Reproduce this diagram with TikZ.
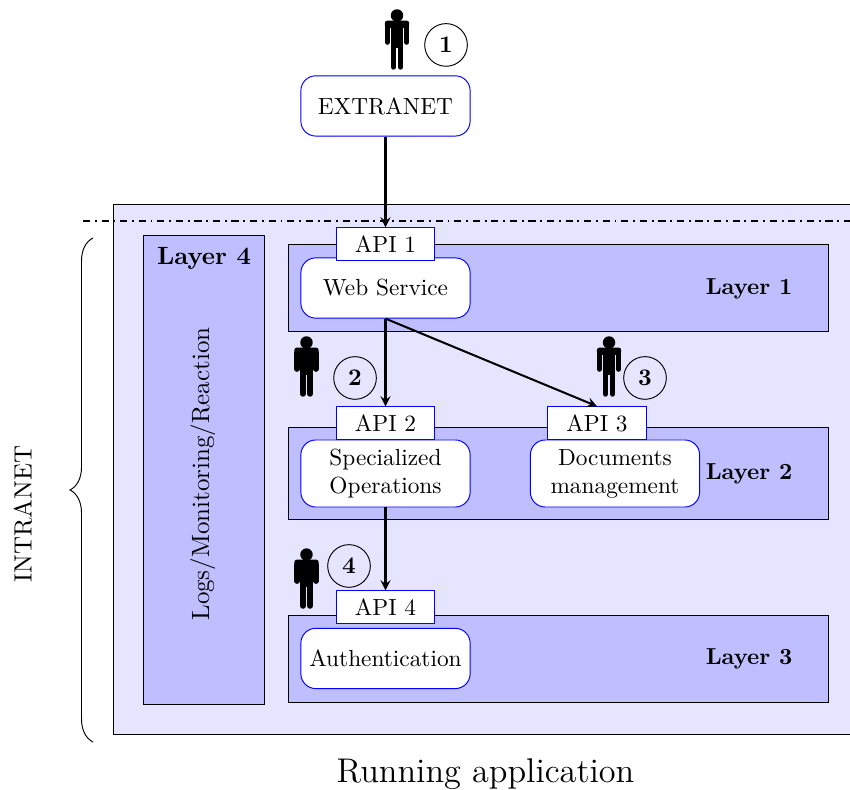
\documentclass[tikz,border=0pt]{standalone}
\usetikzlibrary{decorations.pathreplacing}

\tikzstyle{service} = [draw=blue, fill=white, rounded corners=.22cm, align=center, minimum width=2.5cm, inner sep=0pt, font=\fontsize{9.8}{11.8}\selectfont]
\tikzstyle{api} = [draw=blue, fill=white, minimum width=1.46cm, minimum height=.48cm, inner sep=0pt, font=\fontsize{9.8}{11.8}\selectfont]
\tikzstyle{user} = [draw, circle, minimum size=.63cm, inner sep=0pt, font=\bfseries]
\tikzstyle{layer} = [draw=black, fill=blue!25]
\tikzstyle{layername} = [font=\fontsize{9.7}{12}\selectfont\bfseries]
\tikzstyle{sidetext} = [rotate=90, font=\fontsize{10.5}{12}\selectfont]
\tikzstyle{link} = [line width=.85pt, -stealth]
\tikzset{person/.pic={
	\fill (0,-.096) circle [radius=.092];
	\fill [rounded corners=.04cm] (-.18,-.17) rectangle (.18,-.28);
	\fill (-.095,-.2) rectangle (.095,-.57);
	\draw [line width=.078cm, line cap=round] (-.141,-.25) -- (-.141,-.49);
	\draw [line width=.078cm, line cap=round] (.141,-.25) -- (.141,-.49);
	\draw [line width=.084cm, line cap=round] (-.052,-.5) -- (-.052,-.855);
	\draw [line width=.084cm, line cap=round] (.052,-.5) -- (.052,-.855);
}}

\begin{document}
\begin{tikzpicture}
	\useasboundingbox (0,0) rectangle (12.555,11.654);
	% backgrounds
	\draw [draw=black, fill=blue!10] (12.555,8.641) -- (1.669,8.641) -- (1.669,.812) -- (12.555,.812);
	\draw [layer] (2.112,1.255) rectangle (3.9,8.183);
	\draw [layer] (4.254,6.765) rectangle (12.24,8.050);
	\draw [layer] (4.254,3.988) rectangle (12.24,5.347);
	\draw [layer] (4.254,1.285) rectangle (12.24,2.570);

	\node [layername] (layerone) at (11.064,7.385) {Layer 1};
	\node [layername] (layertwo) at (11.064,4.652) {Layer 2};
	\node [layername] (layerthree) at (11.064,1.920) {Layer 3};
	\node [layername, font=\fontsize{10.5}{12}\selectfont\bfseries] (layerfour) at (3.013,7.841) {Layer 4};
	\node [sidetext] (logs) at (2.998,4.652) {Logs/Monitoring/Reaction};

	\draw [thick, dash dot] (1.226,8.390) -- (12.555,8.390);

	% services
	\node [service, minimum height=.89cm] (extranet) at (5.694,10.089) {EXTRANET};
	\node [service, minimum height=.89cm] (web) at (5.694,7.400) {Web Service};
	\node [service, minimum height=.99cm] (operations) at (5.694,4.660) {Specialized\\Operations};
	\node [service, minimum height=.99cm] (documents) at (9.084,4.660) {Documents\\management};
	\node [service, minimum height=.89cm] (authentication) at (5.694,1.928) {Authentication};

	\node [api] (apione) at (5.694,8.050) {API 1};
	\node [api] (apitwo) at (5.694,5.406) {API 2};
	\node [api] (apithree) at (8.818,5.406) {API 3};
	\node [api] (apifour) at (5.694,2.688) {API 4};

	\draw [link] (extranet.south) -- (apione.north);
	\draw [link] (web.south) -- (apitwo.north);
	\draw [link] (web.south) -- (apithree.north);
	\draw [link] (operations.south) -- (apifour.north);

	% users
	\pic at (5.864,11.521) {person};
	\pic at (4.527,6.691) {person};
	\pic at (8.996,6.691) {person};
	\pic at (4.527,3.559) {person};
	\node [user] (userone) at (6.588,10.990) {1};
	\node [user] (usertwo) at (5.244,6.071) {2};
	\node [user] (userthree) at (9.527,6.071) {3};
	\node [user] (userfour) at (5.155,3.294) {4};

	% intranet
	\coordinate (bracelow) at (1.374,.694);
	\coordinate (bracehigh) at (1.374,8.139);
	\draw [decorate, decoration={brace, amplitude=.34cm}] (bracelow) -- (bracehigh);
	\node [sidetext] (intranet) at (.340,4.062) {INTRANET};
	\node (running) at (7.17,.226) {\Large Running application};
\end{tikzpicture}
\end{document}
